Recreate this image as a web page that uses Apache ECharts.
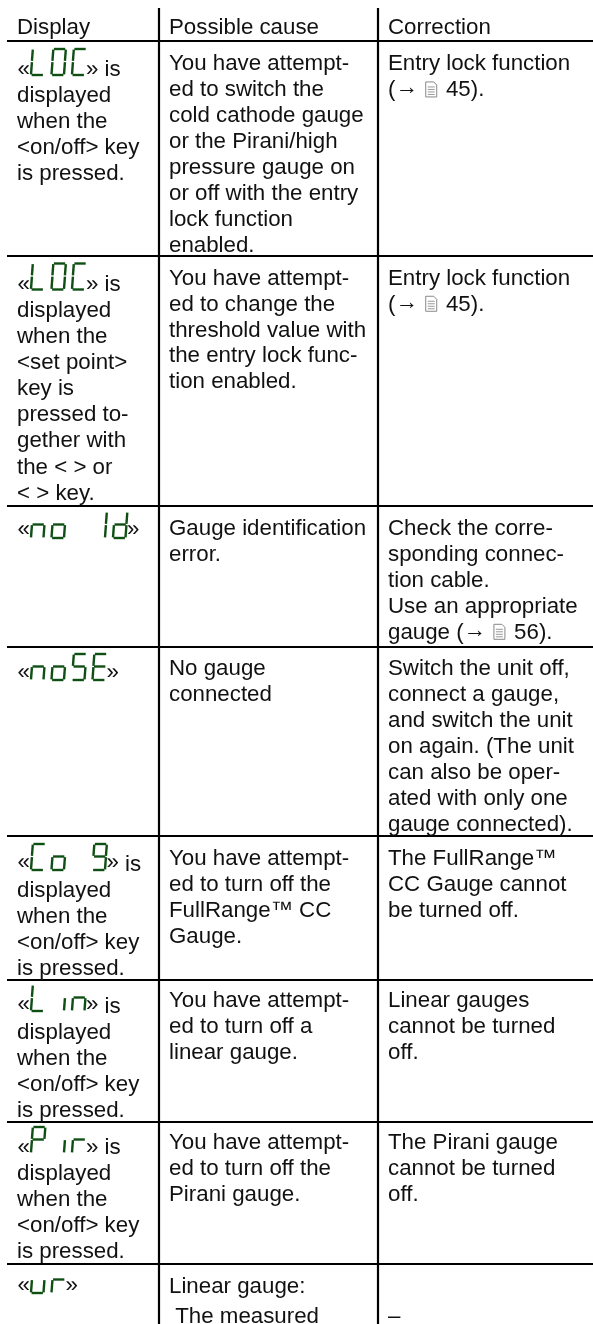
<!DOCTYPE html>
<html>
<head>
<meta charset="utf-8">
<style>html,body{margin:0;padding:0;background:#fff}#main{width:593px;height:1324px}</style>
<script src="https://cdn.jsdelivr.net/npm/echarts@6/dist/echarts.min.js"></script>
</head>
<body>
<div id="main"></div>
<script>
// table content
const headers = ['Display', 'Possible cause', 'Correction'];
const displayCodes = ['LOC', 'LOC', 'no Id', 'noSE', 'Co 9', 'Lin', 'Pir', 'ur'];
const displayTails = ['is', 'is', '', '', 'is', 'is', 'is', ''];
const onOffLines = ['displayed', 'when the', '<on/off> key', 'is pressed.'];
const setPointLines = ['displayed', 'when the', '<set point>', 'key is', 'pressed to-', 'gether with', 'the < > or', '< > key.'];
const displayLines = [onOffLines, setPointLines, [], [], onOffLines, onOffLines, onOffLines, []];
const causeLines = [
    ['You have attempt-', 'ed to switch the', 'cold cathode gauge', 'or the Pirani/high', 'pressure gauge on', 'or off with the entry', 'lock function', 'enabled.'],
    ['You have attempt-', 'ed to change the', 'threshold value with', 'the entry lock func-', 'tion enabled.'],
    ['Gauge identification', 'error.'],
    ['No gauge', 'connected'],
    ['You have attempt-', 'ed to turn off the', 'FullRange™ CC', 'Gauge.'],
    ['You have attempt-', 'ed to turn off a', 'linear gauge.'],
    ['You have attempt-', 'ed to turn off the', 'Pirani gauge.'],
    ['Linear gauge:', ' The measured']
];
// "|" marks the arrow and page icon inside a line
const correctionLines = [
    ['Entry lock function', '(|45).'],
    ['Entry lock function', '(|45).'],
    ['Check the corre-', 'sponding connec-', 'tion cable.', 'Use an appropriate', 'gauge (|56).'],
    ['Switch the unit off,', 'connect a gauge,', 'and switch the unit', 'on again. (The unit', 'can also be oper-', 'ated with only one', 'gauge connected).'],
    ['The FullRange™', 'CC Gauge cannot', 'be turned off.'],
    ['Linear gauges', 'cannot be turned', 'off.'],
    ['The Pirani gauge', 'cannot be turned', 'off.'],
    ['', '–']
];

// seven segment display, a=top going clockwise, g=middle
const segmentsOf = {
    L: 'def', O: 'abcdef', C: 'adef', n: 'ceg', o: 'cdeg', I: 'bc', d: 'bcdeg',
    S: 'acdfg', E: 'adefg', 9: 'abcdfg', i: 'c', u: 'cde', r: 'eg', P: 'abefg', ' ': ''
};

// layout
const FONT = '22.3px "Liberation Sans", Arial, sans-serif';
const INK = '#111';
const GREEN = '#0f4f14';
const PITCH = 25.95;
const TEXT_RISE = 15.8; // text y is the top of the line box
const colX = [17, 169, 388];
const ruleYs = [41, 256, 506, 647, 836, 980, 1122, 1264];
const ruleXs = [159, 378];
const headerBase = 33;
const cellBase = [69, 283.3, 533.5, 674, 864, 1006, 1148, 1291.5];
const codeBase = [75, 289.5, 538, 680, 870, 1011, 1153, 1293];
const quoteBase = [75, 289.5, 535, 678, 868, 1010, 1153, 1291];
const tailBase = [75, 289.5, 535, 678, 870, 1012, 1153, 1291];

const measure = document.createElement('canvas').getContext('2d');
measure.font = FONT;

const textItems = [];
const iconItems = [];
const codeItems = [];
const addText = (x, y, text) => textItems.push({value: [x, y], text: text});

headers.forEach((h, c) => addText(colX[c], headerBase, h));

displayCodes.forEach((code, r) => {
    const quoteX = 30 + (code.length - 1) * 20.5 + 15;
    addText(17.5, quoteBase[r], '«');
    addText(quoteX, quoteBase[r], '»');
    if (displayTails[r]) addText(quoteX + 18.5, tailBase[r], displayTails[r]);
    code.split('').forEach((ch, i) => {
        codeItems.push({value: [30 + i * 20.5, codeBase[r]], segs: segmentsOf[ch]});
    });
    displayLines[r].forEach((line, i) => {
        // the two lines with key symbols sit a bit lower in the source
        const extra = r === 1 && i >= 6 ? 2 : 0;
        addText(colX[0], tailBase[r] + PITCH * (i + 1) + extra, line);
    });
});

causeLines.forEach((lines, r) => {
    lines.forEach((line, i) => {
        const extra = r === 7 && i === 1 ? 4 : 0;
        addText(colX[1], cellBase[r] + PITCH * i + extra, line);
    });
});

correctionLines.forEach((lines, r) => {
    lines.forEach((line, i) => {
        const y = cellBase[r] + PITCH * i + (r === 7 ? 4 : 0);
        const parts = line.split('|');
        addText(colX[2], y, parts[0]);
        if (parts.length > 1) {
            const arrowX = colX[2] + measure.measureText(parts[0]).width;
            addText(arrowX, y - 2, '→');
            const iconX = arrowX + measure.measureText('→').width + 8;
            iconItems.push({value: [iconX, y]});
            addText(iconX + 20.2, y, parts[1]);
        }
    });
});

const renderText = (params, api) => {
    const p = api.coord([api.value(0), api.value(1)]);
    return {
        type: 'text',
        style: {
            x: p[0], y: p[1] - TEXT_RISE,
            text: textItems[params.dataIndex].text,
            font: FONT, fill: INK,
            textAlign: 'left', textBaseline: 'middle'
        }
    };
};

const renderRule = (params, api) => {
    const a = api.coord([api.value(0), api.value(1)]);
    const b = api.coord([api.value(2), api.value(3)]);
    return {
        type: 'line',
        shape: {x1: a[0], y1: a[1], x2: b[0], y2: b[1]},
        style: {stroke: '#000', lineWidth: 2.2}
    };
};

const renderCode = (params, api) => {
    const p = api.coord([api.value(0), api.value(1)]);
    const segs = codeItems[params.dataIndex].segs;
    const w = 12.5, h = 26, mid = 13.5, lean = 1.8, gap = 0.6;
    const xAt = (dy) => p[0] + 1 + lean * dy / h;
    const seg = {
        a: [[xAt(h) + gap, -h], [xAt(h) + w - gap, -h]],
        b: [[xAt(h) + w, -h + gap], [xAt(mid) + w, -mid - gap]],
        c: [[xAt(mid) + w, -mid + gap], [xAt(0) + w, -gap]],
        d: [[xAt(0) + gap, 0], [xAt(0) + w - gap, 0]],
        e: [[xAt(mid), -mid + gap], [xAt(0), -gap]],
        f: [[xAt(h), -h + gap], [xAt(mid), -mid - gap]],
        g: [[xAt(mid) + gap, -mid], [xAt(mid) + w - gap, -mid]]
    };
    return {
        type: 'group',
        children: segs.split('').map(s => ({
            type: 'line',
            shape: {
                x1: seg[s][0][0], y1: p[1] + seg[s][0][1],
                x2: seg[s][1][0], y2: p[1] + seg[s][1][1]
            },
            style: {stroke: GREEN, lineWidth: 2.4}
        }))
    };
};

const renderIcon = (params, api) => {
    const p = api.coord([api.value(0), api.value(1)]);
    const x = p[0], y = p[1] - 13;
    const children = [{
        type: 'polygon',
        shape: {points: [[x, y], [x + 8, y], [x + 11, y + 3], [x + 11, y + 15], [x, y + 15]]},
        style: {fill: '#fff', stroke: '#888', lineWidth: 1}
    }];
    [5, 7.5, 10, 12.5].forEach(dy => children.push({
        type: 'line',
        shape: {x1: x + 2, y1: y + dy, x2: x + 9, y2: y + dy},
        style: {stroke: '#999', lineWidth: 1}
    }));
    return {type: 'group', children: children};
};

const ruleData = [];
ruleYs.forEach(y => ruleData.push([7, y, 593, y]));
ruleXs.forEach(x => ruleData.push([x, 8, x, 1324]));

const chart = echarts.init(document.getElementById('main'), null, {renderer: 'canvas'});
chart.setOption({
    animation: false,
    backgroundColor: '#fff',
    tooltip: {show: false},
    grid: {left: 0, right: 0, top: 0, bottom: 0},
    xAxis: {type: 'value', min: 0, max: 593, show: false},
    yAxis: {type: 'value', min: 0, max: 1324, inverse: true, show: false},
    series: [
        {type: 'custom', silent: true, renderItem: renderRule, data: ruleData, encode: {x: [0, 2], y: [1, 3]}},
        {type: 'custom', silent: true, renderItem: renderText, data: textItems, encode: {x: 0, y: 1}},
        {type: 'custom', silent: true, renderItem: renderCode, data: codeItems, encode: {x: 0, y: 1}},
        {type: 'custom', silent: true, renderItem: renderIcon, data: iconItems, encode: {x: 0, y: 1}}
    ]
});
</script>
</body>
</html>
